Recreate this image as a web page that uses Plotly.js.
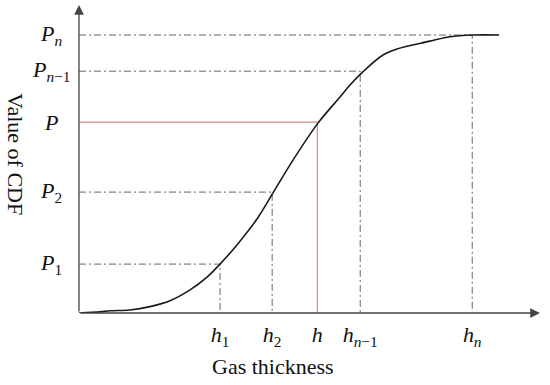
<!DOCTYPE html>
<html>
<head>
<meta charset="utf-8">
<script src="https://cdn.plot.ly/plotly-3.0.1.min.js"></script>
<style>html,body{margin:0;padding:0;background:#fff;}#chart{width:550px;height:385px;}</style>
</head>
<body>
<div id="chart"></div>
<script>
// CDF curve (gas thickness in arbitrary units, CDF value 0..1)
var curveX = [0, 0.456, 0.672, 1.106, 1.540, 1.974, 2.408, 2.777, 3.059, 3.427, 3.861, 4.208, 4.642, 5.184, 5.662, 5.879, 6.161, 6.594, 6.898, 7.614, 8.048, 8.547, 9.111];
var curveY = [0, 0.004, 0.008, 0.011, 0.023, 0.044, 0.083, 0.129, 0.176, 0.245, 0.338, 0.432, 0.550, 0.683, 0.777, 0.820, 0.868, 0.928, 0.950, 0.978, 0.994, 1.0, 1.0];

// marked points
var hVals = [3.06, 4.19, 5.17, 6.10, 8.53];
var pVals = [0.176, 0.435, 0.687, 0.870, 1.0];
var hLabels = ['<i>h</i><sub>1</sub>', '<i>h</i><sub>2</sub>', '<i>h</i>', '<i>h</i><sub><i>n</i>\u22121</sub>', '<i>h</i><sub><i>n</i></sub>'];
var pLabels = ['<i>P</i><sub>1</sub>', '<i>P</i><sub>2</sub>', '<i>P</i>', '<i>P</i><sub><i>n</i>\u22121</sub>', '<i>P</i><sub><i>n</i></sub>'];
var highlightIndex = 2; // the (h, P) pair drawn in red

var xMax = 10, yMax = 1.108;
var serif = 'Liberation Serif, Times New Roman, serif';

var traces = [];
// guide lines
for (var i = 0; i < hVals.length; i++) {
  var red = (i === highlightIndex);
  traces.push({
    x: [0, hVals[i], hVals[i]],
    y: [pVals[i], pVals[i], 0],
    mode: 'lines',
    line: red ? {color: '#d98a8a', width: 1.2} : {color: '#666', width: 1, dash: '7px,3px,2px,3px'},
    hoverinfo: 'skip', showlegend: false
  });
}
traces.push({
  x: curveX, y: curveY, mode: 'lines',
  line: {color: '#1a1a1a', width: 1.6, shape: 'spline', smoothing: 1},
  showlegend: false
});

var annotations = [
  {x: xMax, y: 0, ax: 0, ay: 0, axref: 'x', ayref: 'y', xref: 'x', yref: 'y', text: '',
   showarrow: true, arrowhead: 2, arrowsize: 1.5, arrowwidth: 1.3, arrowcolor: '#444', standoff: 0},
  {x: 0, y: yMax, ax: 0, ay: 0, axref: 'x', ayref: 'y', xref: 'x', yref: 'y', text: '',
   showarrow: true, arrowhead: 2, arrowsize: 1.5, arrowwidth: 1.3, arrowcolor: '#444', standoff: 0},
  {text: 'Gas thickness', xref: 'paper', yref: 'paper', x: (273 - 79) / 461, y: -(366 - 313) / 308,
   xanchor: 'center', yanchor: 'middle', showarrow: false, font: {family: serif, size: 22, color: '#111'}},
  {text: 'Value of CDF', xref: 'paper', yref: 'paper', x: (16 - 79) / 461, y: (313 - 154) / 308,
   xanchor: 'center', yanchor: 'middle', textangle: 90, showarrow: false, font: {family: serif, size: 22, color: '#111'}}
];
// y labels, centred left of the axis
for (var j = 0; j < pVals.length; j++) {
  annotations.push({text: pLabels[j], xref: 'paper', yref: 'y', x: (51 - 79) / 461, y: pVals[j],
    xanchor: 'center', yanchor: 'middle', showarrow: false, font: {family: serif, size: 22, color: '#111'}});
}

var layout = {
  width: 550, height: 385,
  margin: {l: 79, r: 10, t: 5, b: 72},
  paper_bgcolor: '#fff', plot_bgcolor: '#fff',
  showlegend: false,
  font: {family: serif, size: 22, color: '#111'},
  xaxis: {
    range: [0, xMax], showgrid: false, zeroline: false, showline: false,
    tickvals: hVals, ticktext: hLabels, ticks: '', ticklabelstandoff: 6,
    tickfont: {family: serif, size: 22, color: '#111'}, fixedrange: true
  },
  yaxis: {
    range: [0, yMax], showgrid: false, zeroline: false, showline: false,
    tickvals: pVals, showticklabels: false, ticks: '', fixedrange: true
  },
  annotations: annotations
};

Plotly.newPlot('chart', traces, layout, {staticPlot: true, displayModeBar: false});
</script>
</body>
</html>
